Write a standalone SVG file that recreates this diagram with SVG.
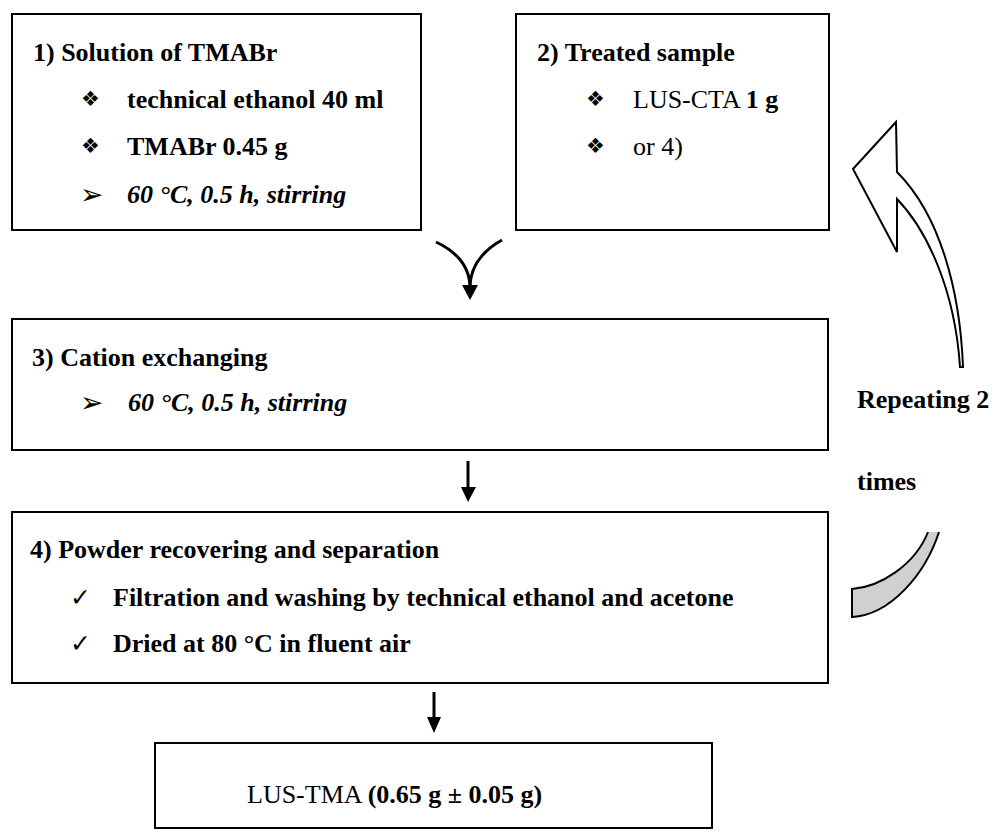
<svg xmlns="http://www.w3.org/2000/svg" width="994" height="832" viewBox="0 0 994 832">
<style>
.box{fill:#fff;stroke:#000;stroke-width:2}
.t{font-family:"Liberation Serif","Times New Roman",serif;font-size:26px;fill:#000}
.b{font-weight:bold}
.i{font-style:italic}
.sym{font-family:"DejaVu Sans",sans-serif;font-size:21px;fill:#000}
.arr{font-family:"DejaVu Sans",sans-serif;font-size:28px;fill:#000}
.chk{font-family:"DejaVu Sans",sans-serif;font-size:25px;fill:#000}
.ln{fill:none;stroke:#000;stroke-width:3}
.hd{fill:#000}
</style>
<rect width="994" height="832" fill="#fff"/>
<g id="node1">
<rect class="box" x="12" y="14" width="409" height="216"/>
<text class="t b" x="33" y="61">1) Solution of TMABr</text>
<text class="sym" x="81" y="106">❖</text>
<text class="t b" x="127" y="108">technical ethanol 40 ml</text>
<text class="sym" x="81" y="153">❖</text>
<text class="t b" x="127" y="155">TMABr 0.45 g</text>
<text class="arr" x="80" y="204">➢</text>
<text class="t b i" x="127" y="203">60 °C, 0.5 h, stirring</text>
</g>
<g id="node2">
<rect class="box" x="516" y="14" width="313" height="216"/>
<text class="t b" x="537" y="61">2) Treated sample</text>
<text class="sym" x="586" y="106">❖</text>
<text class="t" x="633" y="108">LUS-CTA <tspan class="b">1 g</tspan></text>
<text class="sym" x="586" y="153">❖</text>
<text class="t" x="633" y="155">or 4)</text>
</g>
<g id="node3">
<rect class="box" x="12" y="319" width="816" height="131"/>
<text class="t b" x="32" y="366">3) Cation exchanging</text>
<text class="arr" x="80" y="412">➢</text>
<text class="t b i" x="128" y="411">60 °C, 0.5 h, stirring</text>
</g>
<g id="node4">
<rect class="box" x="12" y="512" width="816" height="171"/>
<text class="t b" x="30" y="558">4) Powder recovering and separation</text>
<text class="chk" x="70" y="606">✓</text>
<text class="t b" x="113" y="606">Filtration and washing by technical ethanol and acetone</text>
<text class="chk" x="70" y="652">✓</text>
<text class="t b" x="113" y="652">Dried at 80 °C in fluent air</text>
</g>
<g id="node5">
<rect class="box" x="155" y="743" width="557" height="85"/>
<text class="t" x="247" y="803">LUS-TMA <tspan class="b">(0.65 g ± 0.05 g)</tspan></text>
</g>
<g id="repeat-label">
<text class="t b" x="857" y="408">Repeating 2</text>
<text class="t b" x="857" y="490">times</text>
</g>
<g id="connectors">
<path class="ln" d="M436,242 Q470,258 470,288"/>
<path class="ln" d="M502,240 Q470,258 470,288"/>
<polygon class="hd" points="462,285 478,285 470,300"/>
<line class="ln" x1="468" y1="461" x2="468" y2="490"/>
<polygon class="hd" points="461,487 476,487 468,502"/>
<line class="ln" x1="434" y1="692" x2="434" y2="720"/>
<polygon class="hd" points="427,717 441,717 434,733"/>
<path d="M896,122 L853,169 L897,252 L897,199 C927,230 955,290 960,367 L963,367 C960,290 940,215 897,172 Z" fill="#fff" stroke="#000" stroke-width="2" stroke-linejoin="miter"/>
<path d="M928,532 C915,565 880,587 852,589 L852,617 C890,615 925,575 939,532" fill="#d0d0d0" stroke="#000" stroke-width="2"/>
</g>
</svg>
